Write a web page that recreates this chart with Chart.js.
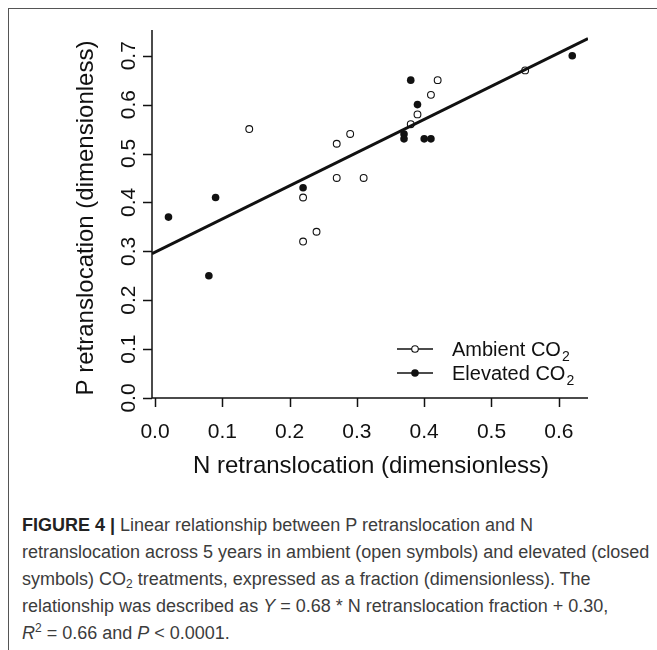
<!DOCTYPE html>
<html lang="en">
<head>
  <meta charset="UTF-8" />
  <title>Figure 4 - P vs N retranslocation</title>
  <script src="https://cdn.jsdelivr.net/npm/chart.js"></script>
  <style>
    body { margin: 0; background: white; width: 657px; height: 650px; overflow: hidden; position: relative; }
    .frame { position: absolute; left: 8px; top: 8px; width: 660px; height: 660px; border-left: 1.5px solid #555; border-top: 1.5px solid #555; }
    #chartBox { position: absolute; left: 0; top: 0; width: 657px; height: 490px; }
    .caption { position: absolute; left: 22px; top: 512px; font-family: 'Liberation Sans', Arial, sans-serif; font-size: 18px; line-height: 27px; color: #3c3c3c; white-space: nowrap; }
    .caption b { color: #222; }
    .caption sub { font-size: 12px; vertical-align: -3px; line-height: 0; }
    .caption sup { font-size: 12px; vertical-align: 7px; line-height: 0; }
  </style>
</head>
<body>
  <div class="frame"></div>
  <div id="chartBox"><canvas id="chart" width="657" height="490"></canvas></div>
  <div class="caption">
    <b>FIGURE 4 |</b> Linear relationship between P retranslocation and N<br>
    retranslocation across 5 years in ambient (open symbols) and elevated (closed<br>
    symbols) CO<sub>2</sub> treatments, expressed as a fraction (dimensionless). The<br>
    relationship was described as <i>Y</i> = 0.68 * N retranslocation fraction + 0.30,<br>
    <i>R</i><sup>2</sup> = 0.66 and <i>P</i> &lt; 0.0001.
  </div>
  <script>
    // values
    const ambientX = [0.14, 0.22, 0.22, 0.24, 0.27, 0.27, 0.29, 0.31, 0.38, 0.39, 0.41, 0.42, 0.55];
    const ambientY = [0.55, 0.41, 0.32, 0.34, 0.52, 0.45, 0.54, 0.45, 0.56, 0.58, 0.62, 0.65, 0.67];
    const elevatedX = [0.02, 0.08, 0.09, 0.22, 0.37, 0.37, 0.38, 0.39, 0.40, 0.41, 0.62];
    const elevatedY = [0.37, 0.25, 0.41, 0.43, 0.54, 0.53, 0.65, 0.60, 0.53, 0.53, 0.70];
    const fitX = [-0.0045, 0.6434];
    const fitY = [0.295, 0.735];

    const xTicks = [0, 0.1, 0.2, 0.3, 0.4, 0.5, 0.6];
    const xTickLabels = ['0.0', '0.1', '0.2', '0.3', '0.4', '0.5', '0.6'];
    const yTicks = [0, 0.1, 0.2, 0.3, 0.4, 0.5, 0.6, 0.7];
    const yTickLabels = ['0.0', '0.1', '0.2', '0.3', '0.4', '0.5', '0.6', '0.7'];

    const xTitle = 'N retranslocation (dimensionless)';
    const yTitle = 'P retranslocation (dimensionless)';
    const seriesNames = ['Ambient CO', 'Elevated CO'];

    const FONT = "'Liberation Sans', Arial, sans-serif";
    const INK = '#111';

    function pts(xs, ys) { return xs.map((x, i) => ({ x: x, y: ys[i] })); }

    // R-style axes, labels and legend drawn off the chart's scales
    const rAxes = {
      id: 'rAxes',
      afterDraw(chart) {
        const ctx = chart.ctx, a = chart.chartArea;
        const sx = chart.scales.x, sy = chart.scales.y;
        ctx.save();
        ctx.strokeStyle = INK;
        ctx.lineWidth = 1.5;
        ctx.beginPath();
        ctx.moveTo(a.left, a.top);
        ctx.lineTo(a.left, a.bottom);
        ctx.lineTo(a.right, a.bottom);
        xTicks.forEach(v => {
          const px = Math.round(sx.getPixelForValue(v)) + 0.5;
          ctx.moveTo(px, a.bottom); ctx.lineTo(px, a.bottom + 9);
        });
        yTicks.forEach(v => {
          const py = Math.round(sy.getPixelForValue(v)) + 0.5;
          ctx.moveTo(a.left, py); ctx.lineTo(a.left - 9, py);
        });
        ctx.stroke();

        ctx.fillStyle = INK;
        ctx.font = '21px ' + FONT;
        ctx.textAlign = 'center';
        ctx.textBaseline = 'alphabetic';
        xTicks.forEach((v, i) => ctx.fillText(xTickLabels[i], sx.getPixelForValue(v), a.bottom + 40));
        yTicks.forEach((v, i) => {
          ctx.save();
          ctx.translate(a.left - 17, sy.getPixelForValue(v));
          ctx.rotate(-Math.PI / 2);
          ctx.fillText(yTickLabels[i], 0, 0);
          ctx.restore();
        });

        ctx.font = '24px ' + FONT;
        ctx.fillText(xTitle, (a.left + a.right) / 2 + 1, a.bottom + 75);
        ctx.save();
        ctx.translate(a.left - 59, (a.top + a.bottom) / 2 + 4);
        ctx.rotate(-Math.PI / 2);
        ctx.fillText(yTitle, 0, 0);
        ctx.restore();

        // legend
        const lx0 = 397, lx1 = 433, lcx = 415, tx = 452;
        const rows = [349, 373];
        rows.forEach((ry, i) => {
          ctx.lineWidth = 1.3;
          ctx.beginPath();
          ctx.moveTo(lx0, ry); ctx.lineTo(lx1, ry);
          ctx.stroke();
          ctx.beginPath();
          ctx.arc(lcx, ry, i === 0 ? 3.3 : 3.8, 0, Math.PI * 2);
          if (i === 0) { ctx.fillStyle = 'white'; ctx.fill(); ctx.lineWidth = 1.1; ctx.stroke(); }
          else { ctx.fillStyle = INK; ctx.fill(); }
          ctx.fillStyle = INK;
          ctx.textAlign = 'left';
          ctx.font = '20px ' + FONT;
          ctx.fillText(seriesNames[i], tx, ry + 7);
          const w = ctx.measureText(seriesNames[i]).width;
          ctx.font = '14px ' + FONT;
          ctx.fillText('2', tx + w + 1, ry + 12);
        });
        ctx.restore();
      }
    };

    new Chart(document.getElementById('chart'), {
      type: 'scatter',
      data: {
        datasets: [
          {
            label: 'fit',
            type: 'line',
            data: pts(fitX, fitY),
            borderColor: INK,
            borderWidth: 3,
            pointRadius: 0,
            fill: false,
            order: 0
          },
          {
            label: 'Ambient CO2',
            data: pts(ambientX, ambientY),
            pointStyle: 'circle',
            pointRadius: 3.4,
            pointBorderWidth: 1.1,
            pointBorderColor: INK,
            pointBackgroundColor: 'rgba(0,0,0,0)',
            order: 1
          },
          {
            label: 'Elevated CO2',
            data: pts(elevatedX, elevatedY),
            pointStyle: 'circle',
            pointRadius: 3.8,
            pointBorderWidth: 0,
            pointBackgroundColor: INK,
            order: 2
          }
        ]
      },
      options: {
        responsive: false,
        animation: false,
        devicePixelRatio: 1,
        layout: { padding: { left: 152, top: 30, right: 657 - 588, bottom: 490 - 398 } },
        plugins: { legend: { display: false }, tooltip: { enabled: false } },
        scales: {
          x: { type: 'linear', display: false, min: -0.0045, max: 0.6434 },
          y: { type: 'linear', display: false, min: 0, max: 0.7526 }
        }
      },
      plugins: [rAxes]
    });
  </script>
</body>
</html>
